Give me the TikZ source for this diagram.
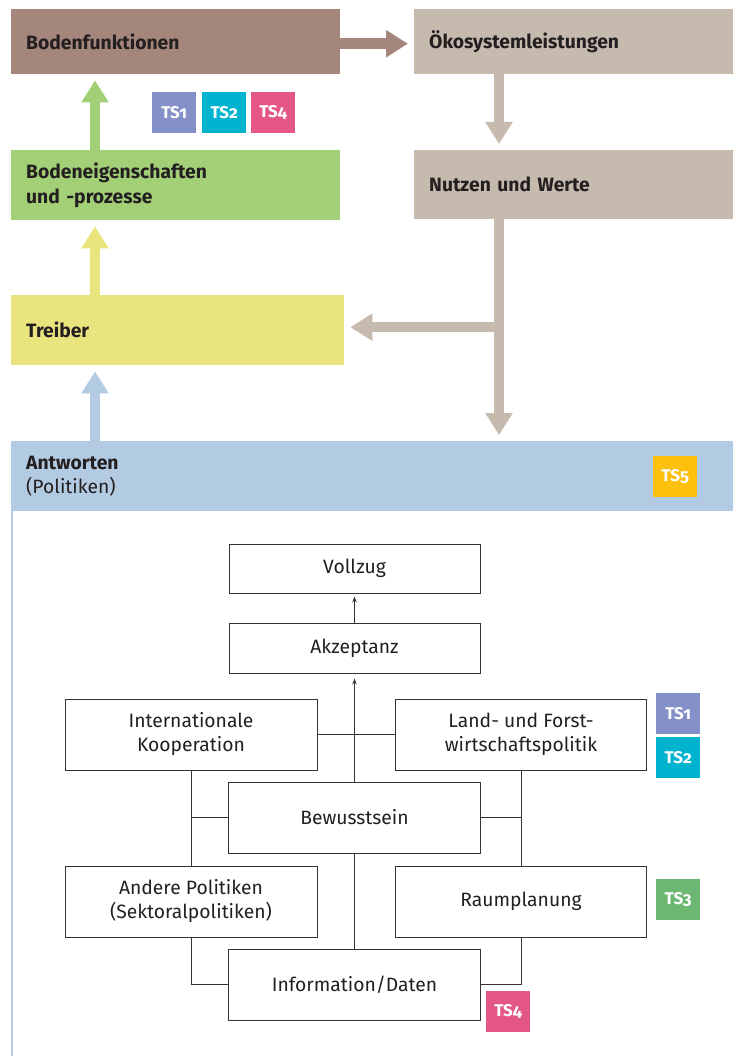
\documentclass[tikz,border=0pt]{standalone}
\usepackage{fontspec}
\setmainfont{Fira Sans}
\newfontfamily\tsfont[Numbers=OldStyle]{Fira Sans}
\usetikzlibrary{arrows.meta}
\definecolor{brownc}{HTML}{A4867C}
\definecolor{beigec}{HTML}{C6B9AD}
\definecolor{greenc}{HTML}{A3D077}
\definecolor{yellowc}{HTML}{EAE47F}
\definecolor{bluec}{HTML}{B3CAE3}
\definecolor{txtc}{HTML}{231F20}
\definecolor{lboxc}{HTML}{333333}
\definecolor{tsone}{HTML}{8490C7}
\definecolor{tstwo}{HTML}{00B3CE}
\definecolor{tsthree}{HTML}{6CB872}
\definecolor{tsfour}{HTML}{E55688}
\definecolor{tsfive}{HTML}{FDC00F}
\begin{document}
\begin{tikzpicture}[x=1pt,y=-1pt,
  topbox/.style={rectangle, anchor=north west, inner xsep=15pt, inner ysep=0pt,
    align=left, text=txtc, font=\fontsize{19.3}{24.5}\selectfont},
  botbox/.style={rectangle, draw=lboxc, line width=1pt, align=center, text=txtc,
    inner sep=0pt, font=\fontsize{19.3}{24}\selectfont},
  badge/.style={rectangle, anchor=north west, inner sep=0pt, minimum width=44pt,
    minimum height=41pt, text=white, font=\tsfont\bfseries\fontsize{17}{17}\selectfont},
  bigarrow/.style={line width=10.5pt, -{Triangle[width=26pt,length=22pt]}, shorten >=6pt},
  thin/.style={draw=lboxc, line width=1pt},
  thinarrow/.style={thin, -{Stealth[length=6pt,width=4.5pt]}}
]
\useasboundingbox (0,0) rectangle (733,1056);

% top boxes
\node[topbox, fill=brownc, text width=299pt, minimum height=65pt] (bf) at (11,9) {\bfseries Bodenfunktionen};
\node[topbox, fill=beigec, text width=289pt, minimum height=65pt] (oe) at (414,9) {\bfseries Ökosystemleistungen};
\node[topbox, fill=greenc, text width=299pt, minimum height=70pt] (be) at (11,150) {{\bfseries Bodeneigenschaften}\\{\bfseries und -prozesse}};
\node[topbox, fill=beigec, text width=289pt, minimum height=69pt] (nw) at (414,150) {\bfseries Nutzen und Werte};
\node[topbox, fill=yellowc, text width=303pt, minimum height=70pt] (tr) at (11,295) {\bfseries Treiber};
\node[topbox, fill=bluec, text width=692pt, minimum height=70pt] (band) at (11,441) {{\bfseries Antworten}\\{\mdseries (Politiken)}};

% badges
\node[badge, fill=tsone] (ta1) at (152,92) {TS1};
\node[badge, fill=tstwo] (ta2) at (202,92) {TS2};
\node[badge, fill=tsfour] (ta4) at (251,92) {TS4};
\node[badge, fill=tsfive] (ta5) at (653,456) {TS5};

% big arrows
\coordinate (trunk) at (499,0);
\coordinate (ax) at (95,0);
\draw[bigarrow, brownc] ([yshift=-2pt]bf.east) -- ([yshift=-2pt]oe.west);
\draw[bigarrow, beigec] (oe.south -| trunk) -- (nw.north -| trunk);
\draw[bigarrow, beigec] (nw.south -| trunk) -- (band.north -| trunk);
\draw[bigarrow, beigec] ([yshift=3pt]trunk |- tr.east) -- ([yshift=3pt]tr.east);
\draw[bigarrow, greenc] (be.north -| ax) -- (bf.south -| ax);
\draw[bigarrow, yellowc] (tr.north -| ax) -- (be.south -| ax);
\draw[bigarrow, bluec] (band.north -| ax) -- (tr.south -| ax);

% left border
\coordinate (bl) at (12,1056);
\draw[bluec, line width=1.5pt] (band.south west -| bl) -- (bl);

% lower diagram
\node[botbox, minimum width=251pt, minimum height=49pt] (vz) at (354.5,568.5) {Vollzug};
\node[botbox, minimum width=251pt, minimum height=50pt] (ak) at (354.5,648) {Akzeptanz};
\node[botbox, minimum width=252pt, minimum height=71pt] (ik) at (191,734.5) {Internationale\\Kooperation};
\node[botbox, minimum width=251pt, minimum height=71pt] (lf) at (521,734.5) {Land- und Forst-\\wirtschaftspolitik};
\node[botbox, minimum width=252pt, minimum height=71pt] (bw) at (354.5,817.5) {Bewusstsein};
\node[botbox, minimum width=252pt, minimum height=71pt] (ap) at (191,901.5) {Andere Politiken\\(Sektoralpolitiken)};
\node[botbox, minimum width=251pt, minimum height=71pt] (rp) at (521,901.5) {Raumplanung};
\node[botbox, minimum width=252pt, minimum height=71pt] (id) at (354.5,984.5) {Information/Daten};

\node[badge, fill=tsone] (tb1) at (656,693) {TS1};
\node[badge, fill=tstwo] (tb2) at (656,737) {TS2};
\node[badge, fill=tsthree] (tb3) at (656,879) {TS3};
\node[badge, fill=tsfour] (tb4) at (486,991) {TS4};

\draw[thinarrow, shorten >=3pt] (ak.north) -- (vz.south);
\draw[thinarrow, shorten >=5pt] (bw.north) -- (ak.south);
\draw[thin] (bw.south) -- (id.north);
\draw[thin] (ik.east) -- (lf.west);
\draw[thin] (ik.south) -- (ap.north);
\draw[thin] (lf.south) -- (rp.north);
\draw[thin] (bw.west) -- (bw.west -| ik.south);
\draw[thin] (bw.east) -- (bw.east -| lf.south);
\draw[thin] (ap.south) |- (id.west);
\draw[thin] (rp.south) |- (id.east);
\end{tikzpicture}
\end{document}
